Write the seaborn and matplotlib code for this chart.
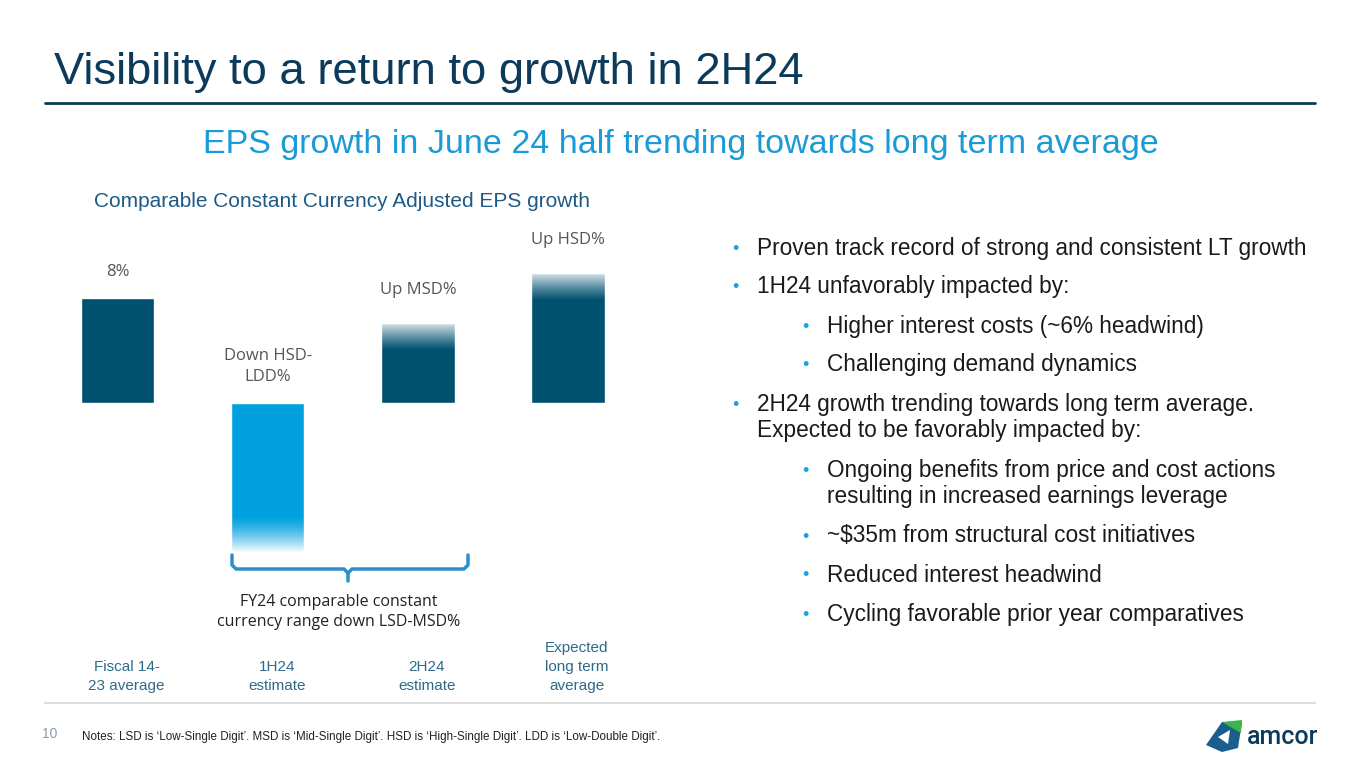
import numpy as np
import pandas as pd
import seaborn as sns
import matplotlib.pyplot as plt
from matplotlib.transforms import blended_transform_factory
from matplotlib.patches import Polygon

# chart data
categories = ['Fiscal 14-\n23 average', '1H24\nestimate', '2H24\nestimate', 'Expected\nlong term\naverage']
eps_growth = [8.0, -11.4, 6.1, 9.9]
bar_labels = ['8%', 'Down HSD-\nLDD%', 'Up MSD%', 'Up HSD%']
bar_colors = ['#00506f', '#00a0df', '#00506f', '#00506f']
faded = [False, True, True, True]

bullets = [
    (0, ['Proven track record of strong and consistent LT growth']),
    (0, ['1H24 unfavorably impacted by:']),
    (1, ['Higher interest costs (~6% headwind)']),
    (1, ['Challenging demand dynamics']),
    (0, ['2H24 growth trending towards long term average.', 'Expected to be favorably impacted by:']),
    (1, ['Ongoing benefits from price and cost actions', 'resulting in increased earnings leverage']),
    (1, ['~$35m from structural cost initiatives']),
    (1, ['Reduced interest headwind']),
    (1, ['Cycling favorable prior year comparatives']),
]

sns.set_theme(style='white')
plt.rcParams['font.family'] = ['Liberation Sans', 'DejaVu Sans']

W, H = 1365, 768
fig = plt.figure(figsize=(W / 100, H / 100), dpi=100)
fig.patch.set_facecolor('white')

# bar axes placed in pixel space: baseline at y=403, 13.1 px per %
ymin, ymax = -12, 14
ppu = 13.1
top_px = 403 - ymax * ppu
bot_px = 403 - ymin * ppu
ax = fig.add_axes([42.5 / W, 1 - bot_px / H, 600.5 / W, (bot_px - top_px) / H])

df = pd.DataFrame({'cat': categories, 'val': eps_growth})
sns.barplot(data=df, x='cat', y='val', hue='cat', palette=bar_colors, width=0.49,
            legend=False, ax=ax, saturation=1)

# white fades on the uncertain ends of the bars
n = 64
for p, v, f in zip(ax.patches, eps_growth, faded):
    if not f:
        continue
    x0, w = p.get_x(), p.get_width()
    grad = np.ones((n, 1, 4))
    if v > 0:
        # row 0 at the top of the bar
        grad[:, 0, 3] = np.linspace(0.88, 0.0, n) ** 1.2
        ax.imshow(grad, extent=(x0, x0 + w, v - 2.1, v), origin='upper',
                  aspect='auto', zorder=5, interpolation='bilinear')
    else:
        # row 0 at the bottom of the bar
        grad[:, 0, 3] = np.linspace(0.97, 0.0, n) ** 1.4
        ax.imshow(grad, extent=(x0, x0 + w, v, v + 2.8), origin='lower',
                  aspect='auto', zorder=5, interpolation='bilinear')

ax.set_xlim(-0.5, 3.5)
ax.set_ylim(ymin, ymax)
ax.axis('off')

for i, (v, lab) in enumerate(zip(eps_growth, bar_labels)):
    pad = 1.4 if not faded[i] or v < 0 else 1.9
    ax.text(i, max(v, 0) + pad, lab, ha='center', va='bottom', fontsize=12,
            color='#555555', family=['Open Sans', 'DejaVu Sans'], linespacing=1.35)

# overlay axes in pixel coordinates for slide text
ov = fig.add_axes([0, 0, 1, 1])
ov.set_xlim(0, W)
ov.set_ylim(H, 0)
ov.axis('off')

# category labels under bars
tr = blended_transform_factory(ax.transData, ov.transData)
for i, c in enumerate(categories):
    ax.text(i + 0.06, 693, c, transform=tr, ha='center', va='bottom', fontsize=11,
            color='#2d6a8a', linespacing=1.45, clip_on=False)

ov.text(54, 84, 'Visibility to a return to growth in 2H24', fontsize=32.7,
        color='#0c3a5b', va='baseline')
ov.plot([45, 1315], [103, 103], color='#0c3a5b', lw=2)
ov.text(681, 153, 'EPS growth in June 24 half trending towards long term average',
        fontsize=24.5, color='#1a9ad6', ha='center', va='baseline')
ov.text(94, 207, 'Comparable Constant Currency Adjusted EPS growth', fontsize=15,
        color='#1d5a86', va='baseline')

# brace under 1H24 and 2H24
bc = '#2a8fcb'
ov.plot([232, 232, 236, 344, 348, 348], [555, 565, 569, 569, 573, 581], color=bc, lw=2.5,
        solid_joinstyle='round', solid_capstyle='round')
ov.plot([468, 468, 464, 352, 348], [555, 565, 569, 569, 573], color=bc, lw=2.5,
        solid_joinstyle='round', solid_capstyle='round')
ov.text(339, 612, 'FY24 comparable constant\ncurrency range down LSD-MSD%', fontsize=11.5,
        color='#222222', ha='center', va='center', linespacing=1.3,
        family=['Open Sans', 'DejaVu Sans'])

# bullets on the right
y = 247
for lvl, lines in bullets:
    bx = 735 if lvl == 0 else 805
    ov.text(bx, y + 2, '\u2022', fontsize=13, color='#1ba1db', ha='center', va='center')
    for k, line in enumerate(lines):
        ov.text(bx + 22, y + 7.5 + 27 * k, line, fontsize=16.3, color='#1a1a1a',
                va='baseline')
    y += 39 + 27 * (len(lines) - 1)

# footer
ov.plot([45, 1315], [703, 703], color='#dddddd', lw=1.5)
ov.text(42, 734, '10', fontsize=10, color='#8a9bb0', va='center')
ov.text(82, 737, "Notes: LSD is \u2018Low-Single Digit\u2019. MSD is \u2018Mid-Single Digit\u2019. "
        "HSD is \u2018High-Single Digit\u2019. LDD is \u2018Low-Double Digit\u2019.",
        fontsize=8.4, color='#222222', va='center')

# simple logo mark
ov.add_patch(Polygon([[1206, 745], [1222, 722], [1242, 722], [1238, 748], [1222, 752]],
                     closed=True, facecolor='#1b5d8c', edgecolor='none'))
ov.add_patch(Polygon([[1222, 722], [1242, 720], [1241, 733], [1232, 728]],
                     closed=True, facecolor='#3ab54a', edgecolor='none'))
ov.add_patch(Polygon([[1218, 737], [1230, 730], [1228, 744]],
                     closed=True, facecolor='white', edgecolor='none'))
ov.text(1247, 737, 'amcor', fontsize=18, color='#0c3a5b', va='center',
        family=['Roboto', 'DejaVu Sans'], fontweight='medium')

fig.savefig('out.png', dpi=100, facecolor='white')
